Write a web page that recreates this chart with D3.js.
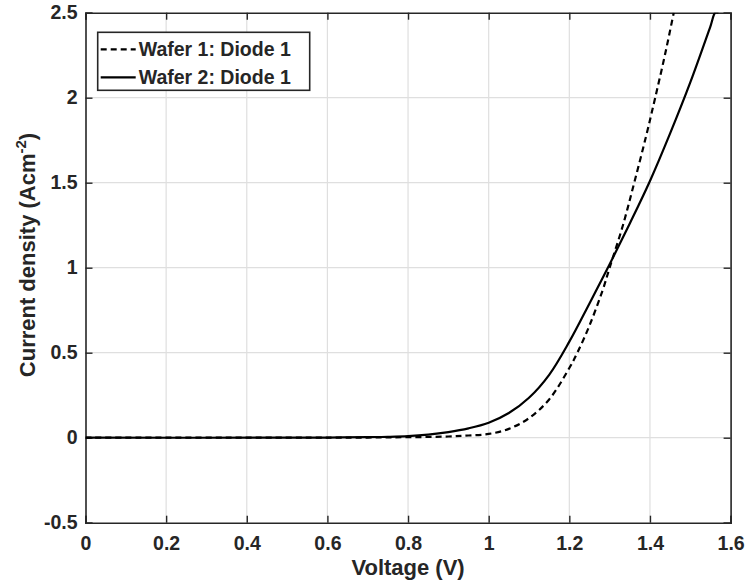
<!DOCTYPE html>
<html>
<head>
<meta charset="utf-8">
<script src="https://cdn.jsdelivr.net/npm/d3@7"></script>
<style>
  body { margin: 0; background: #fff; }
  text { font-family: "Liberation Sans", Arial, sans-serif; font-weight: bold; fill: #262626; }
</style>
</head>
<body>
<div class="canvas"></div>
<script>
const width = 747, height = 586;
const margin = {top: 12.7, right: 16.4, bottom: 63.3, left: 85.5};
const graphWidth = width - margin.left - margin.right;
const graphHeight = height - margin.top - margin.bottom;

// data
const xTicks = [0, 0.2, 0.4, 0.6, 0.8, 1, 1.2, 1.4, 1.6];
const yTicks = [-0.5, 0, 0.5, 1, 1.5, 2, 2.5];
const seriesNames = ["Wafer 1: Diode 1", "Wafer 2: Diode 1"];

const voltage1 = [0, 0.5, 0.7, 0.8, 0.9, 0.95, 1.0, 1.05, 1.1, 1.15, 1.2, 1.22, 1.25, 1.283, 1.3, 1.333, 1.361, 1.39, 1.413, 1.437, 1.459];
const current1 = [0, 0, 0.001, 0.003, 0.007, 0.013, 0.022, 0.052, 0.115, 0.225, 0.41, 0.5, 0.66, 0.87, 1.0, 1.25, 1.5, 1.77, 2.0, 2.25, 2.5];

const voltage2 = [0, 0.5, 0.6, 0.7, 0.75, 0.8, 0.85, 0.9, 0.95, 1.0, 1.05, 1.1, 1.15, 1.2, 1.25, 1.3, 1.35, 1.4, 1.45, 1.5, 1.55, 1.562, 1.57];
const current2 = [0, 0, 0.001, 0.003, 0.005, 0.009, 0.018, 0.033, 0.055, 0.088, 0.145, 0.235, 0.37, 0.565, 0.79, 1.02, 1.26, 1.51, 1.79, 2.09, 2.42, 2.5, 2.5];

const svg = d3.select('.canvas')
    .append('svg')
    .attr('width', width)
    .attr('height', height);

const graph = svg.append('g')
    .attr('transform', `translate(${margin.left}, ${margin.top})`);

const x = d3.scaleLinear().domain([0, 1.6]).range([0, graphWidth]);
const y = d3.scaleLinear().domain([-0.5, 2.5]).range([graphHeight, 0]);

// grid
graph.append('g').selectAll('line')
    .data(xTicks.slice(1, -1))
    .enter().append('line')
    .attr('x1', d => x(d)).attr('x2', d => x(d))
    .attr('y1', 0).attr('y2', graphHeight)
    .attr('stroke', '#dfdfdf').attr('stroke-width', 1.2);
graph.append('g').selectAll('line')
    .data(yTicks.slice(1, -1))
    .enter().append('line')
    .attr('y1', d => y(d)).attr('y2', d => y(d))
    .attr('x1', 0).attr('x2', graphWidth)
    .attr('stroke', '#dfdfdf').attr('stroke-width', 1.2);

// axes (ticks pointing inwards, mirrored on top/right)
const tickLen = 7;
const xAxis = d3.axisBottom(x).tickValues(xTicks).tickSize(-tickLen).tickFormat(d => String(d));
const yAxis = d3.axisLeft(y).tickValues(yTicks).tickSize(-tickLen).tickFormat(d => String(d));
const xAxisTop = d3.axisTop(x).tickValues(xTicks).tickSize(-tickLen).tickFormat('');
const yAxisRight = d3.axisRight(y).tickValues(yTicks).tickSize(-tickLen).tickFormat('');

const xAxisGroup = graph.append('g').attr('transform', `translate(0, ${graphHeight})`).call(xAxis);
const yAxisGroup = graph.append('g').call(yAxis);
graph.append('g').call(xAxisTop);
graph.append('g').attr('transform', `translate(${graphWidth}, 0)`).call(yAxisRight);

graph.selectAll('.domain').attr('stroke', '#262626').attr('stroke-width', 1.6);
graph.selectAll('.tick line').attr('stroke', '#262626').attr('stroke-width', 1.4);
graph.selectAll('.tick text').style('font-size', '19.5px').attr('fill', '#262626')
    .style('font-family', '"Liberation Sans", Arial, sans-serif').style('font-weight', 'bold');
xAxisGroup.selectAll('.tick text').attr('dy', '0.71em').attr('y', 13);
yAxisGroup.selectAll('.tick text').attr('x', -8);

// curves
svg.append('clipPath').attr('id', 'clip')
    .append('rect').attr('width', graphWidth).attr('height', graphHeight);

const line = d3.line()
    .x(d => x(d[0]))
    .y(d => y(d[1]))
    .curve(d3.curveCatmullRom.alpha(0.5));

const curves = graph.append('g').attr('clip-path', 'url(#clip)');
curves.append('path')
    .datum(d3.zip(voltage1, current1))
    .attr('d', line)
    .attr('fill', 'none').attr('stroke', '#000').attr('stroke-width', 2.2)
    .attr('stroke-dasharray', '6,4');
curves.append('path')
    .datum(d3.zip(voltage2, current2))
    .attr('d', line)
    .attr('fill', 'none').attr('stroke', '#000').attr('stroke-width', 2.2);

// labels
svg.append('text')
    .attr('x', margin.left + graphWidth / 2)
    .attr('y', 575)
    .attr('text-anchor', 'middle')
    .style('font-size', '22px')
    .text('Voltage (V)');

const yLabel = svg.append('text')
    .attr('transform', `translate(35, 255) rotate(-90)`)
    .attr('text-anchor', 'middle')
    .style('font-size', '22px');
yLabel.append('tspan').text('Current density (Acm');
yLabel.append('tspan').attr('dy', -9).style('font-size', '15px').text('-2');
yLabel.append('tspan').attr('dy', 9).text(')');

// legend
const legend = svg.append('g').attr('transform', 'translate(97.7, 32.3)');
legend.append('rect')
    .attr('width', 212).attr('height', 58)
    .attr('fill', '#fff').attr('stroke', '#262626').attr('stroke-width', 1.6);
seriesNames.forEach((name, i) => {
    const cy = 17 + i * 28;
    legend.append('line')
        .attr('x1', 3).attr('x2', 38).attr('y1', cy).attr('y2', cy)
        .attr('stroke', '#000').attr('stroke-width', 2.2)
        .attr('stroke-dasharray', i === 0 ? '6,4' : null);
    legend.append('text')
        .attr('x', 41).attr('y', cy).attr('dy', '0.36em')
        .style('font-size', '19.5px')
        .text(name);
});
</script>
</body>
</html>
